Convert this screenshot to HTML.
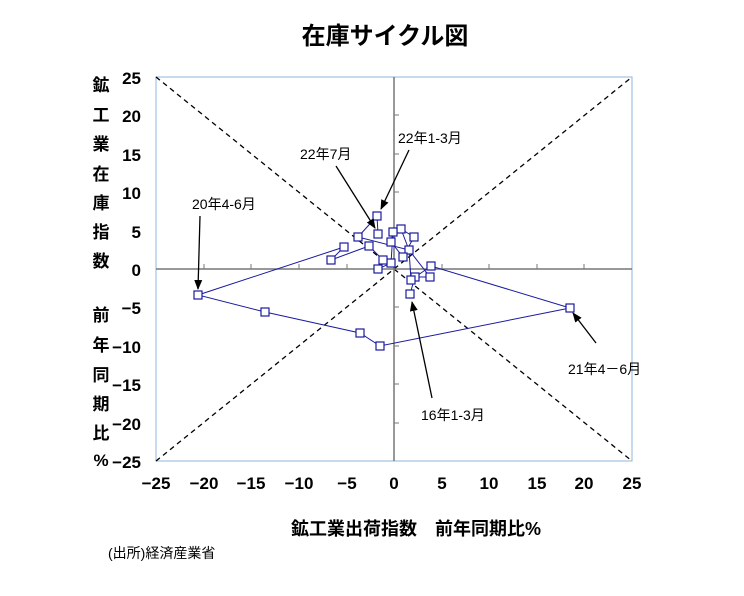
<!DOCTYPE html>
<html><head><meta charset="utf-8"><style>
body{margin:0;background:#fff;}
svg text{font-family:"Liberation Sans","Noto Sans CJK JP",sans-serif;}
</style></head><body>
<svg width="744" height="591" xmlns="http://www.w3.org/2000/svg">
<defs><marker id="ah" markerWidth="10" markerHeight="10" refX="9" refY="5" orient="auto" markerUnits="userSpaceOnUse"><path d="M0,1 L10,5 L0,9 z" fill="#000"/></marker></defs>
<text x="385" y="44" font-size="24" font-weight="bold" text-anchor="middle">在庫サイクル図</text>
<rect x="156" y="77" width="476" height="384" fill="none" stroke="#8fb4dc" stroke-width="1"/>
<g stroke="#000" stroke-width="1.3" stroke-dasharray="5,4">
<line x1="156" y1="77" x2="632" y2="461"/><line x1="156" y1="461" x2="632" y2="77"/></g>
<g stroke="#777" stroke-width="1.5"><line x1="156" y1="269" x2="632" y2="269"/><line x1="394" y1="77" x2="394" y2="461"/></g>
<g stroke="#777" stroke-width="1">
<line x1="204" y1="269" x2="204" y2="264"/><line x1="251" y1="269" x2="251" y2="264"/><line x1="299" y1="269" x2="299" y2="264"/><line x1="347" y1="269" x2="347" y2="264"/><line x1="442" y1="269" x2="442" y2="264"/><line x1="489" y1="269" x2="489" y2="264"/><line x1="537" y1="269" x2="537" y2="264"/><line x1="584" y1="269" x2="584" y2="264"/>
<line x1="394" y1="115" x2="399" y2="115"/><line x1="394" y1="154" x2="399" y2="154"/><line x1="394" y1="192" x2="399" y2="192"/><line x1="394" y1="231" x2="399" y2="231"/><line x1="394" y1="307" x2="399" y2="307"/><line x1="394" y1="346" x2="399" y2="346"/><line x1="394" y1="384" x2="399" y2="384"/><line x1="394" y1="423" x2="399" y2="423"/>
</g>
<polyline fill="none" stroke="#1a1aa0" stroke-width="1" points="410,294 415,277 430,277 409,250 401,229 414,237 403,257 391,242 393,232 391,263 378,269 383,260 369,246 331,260 344,247 198,295 265,312 360,333 380,346 570,308 431,266 411,280 409,250 358,237 377,216 378,234"/>
<g fill="#fff" stroke="#1a1aa0" stroke-width="1.2">
<rect x="406" y="290" width="8" height="8"/><rect x="411" y="273" width="8" height="8"/><rect x="426" y="273" width="8" height="8"/><rect x="405" y="246" width="8" height="8"/><rect x="397" y="225" width="8" height="8"/><rect x="410" y="233" width="8" height="8"/><rect x="399" y="253" width="8" height="8"/><rect x="387" y="238" width="8" height="8"/><rect x="389" y="228" width="8" height="8"/><rect x="387" y="259" width="8" height="8"/><rect x="374" y="265" width="8" height="8"/><rect x="379" y="256" width="8" height="8"/><rect x="365" y="242" width="8" height="8"/><rect x="327" y="256" width="8" height="8"/><rect x="340" y="243" width="8" height="8"/><rect x="194" y="291" width="8" height="8"/><rect x="261" y="308" width="8" height="8"/><rect x="356" y="329" width="8" height="8"/><rect x="376" y="342" width="8" height="8"/><rect x="566" y="304" width="8" height="8"/><rect x="427" y="262" width="8" height="8"/><rect x="407" y="276" width="8" height="8"/><rect x="354" y="233" width="8" height="8"/><rect x="373" y="212" width="8" height="8"/><rect x="374" y="230" width="8" height="8"/>
</g>
<g stroke="#000" stroke-width="1.3" marker-end="url(#ah)">
<line x1="336" y1="166" x2="375" y2="228"/><line x1="409" y1="150" x2="381" y2="209"/><line x1="200" y1="216" x2="198" y2="289"/><line x1="596" y1="343" x2="573" y2="313"/><line x1="432" y1="398" x2="412" y2="302"/></g>
<g font-size="14">
<text x="300" y="159">22年7月</text><text x="398" y="143">22年1-3月</text><text x="192" y="209">20年4-6月</text><text x="568" y="374">21年4－6月</text><text x="421" y="420">16年1-3月</text></g>
<g font-size="17" font-weight="bold" text-anchor="end">
<text x="141" y="84">25</text><text x="141" y="122">20</text><text x="141" y="161">15</text><text x="141" y="199">10</text><text x="141" y="238">5</text><text x="141" y="276">0</text><text x="141" y="314">−5</text><text x="141" y="353">−10</text><text x="141" y="391">−15</text><text x="141" y="430">−20</text><text x="141" y="468">−25</text></g>
<g font-size="17" font-weight="bold" text-anchor="middle">
<text x="156" y="489">−25</text><text x="204" y="489">−20</text><text x="251" y="489">−15</text><text x="299" y="489">−10</text><text x="347" y="489">−5</text><text x="394" y="489">0</text><text x="442" y="489">5</text><text x="489" y="489">10</text><text x="537" y="489">15</text><text x="584" y="489">20</text><text x="632" y="489">25</text></g>
<g font-size="17" font-weight="bold" text-anchor="middle">
<text x="101" y="91">鉱</text><text x="101" y="121">工</text><text x="101" y="150">業</text><text x="101" y="180">在</text><text x="101" y="209">庫</text><text x="101" y="238">指</text><text x="101" y="267">数</text>
<text x="101" y="321">前</text><text x="101" y="351">年</text><text x="101" y="381">同</text><text x="101" y="410">期</text><text x="101" y="439">比</text><text x="101" y="466">%</text></g>
<text x="416" y="535" font-size="18" font-weight="bold" text-anchor="middle">鉱工業出荷指数　前年同期比%</text>
<text x="108" y="558" font-size="14">(出所)経済産業省</text>
</svg>
</body></html>
